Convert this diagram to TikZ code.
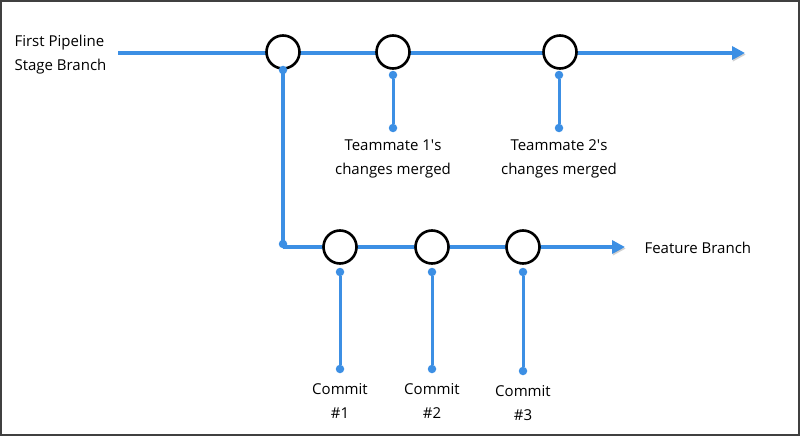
\documentclass[tikz,border=0pt]{standalone}
\usepackage{fontspec}
\setmainfont{Open Sans}
\usetikzlibrary{arrows.meta,backgrounds}
\definecolor{gitblue}{RGB}{60,143,228}

\begin{document}
\begin{tikzpicture}[x=1pt,y=-1pt,font=\fontsize{15}{24}\selectfont,
  commit/.style={circle,draw=black,line width=2.6pt,fill=white,minimum size=33pt,inner sep=0pt},
  dot/.style={circle,fill=gitblue,minimum size=8.5pt,inner sep=0pt},
  branch/.style={gitblue,line width=4pt,
    preaction={draw=black,opacity=.18,transform canvas={shift={(0.8pt,-1.6pt)}}}},
  stem/.style={gitblue,line width=3pt},
  tip/.style={-{Triangle[length=13pt,width=13pt]}},
  lbl/.style={align=center}]
\useasboundingbox (0,0) rectangle (800,436);
\draw[black!75,line width=2pt] (1,1) rectangle (799,435);
% main branch
\coordinate (mstart) at (118,53);
\coordinate (mend) at (745,53);
\node[commit] (m1) at (283,52) {};
\node[commit] (m2) at (393,52) {};
\node[commit] (m3) at (560,52) {};
\node[dot] (fork) at (283,70) {};
\node[dot] (t1a) at (393,75) {};
\node[dot] (t1b) at (393,128) {};
\node[dot] (t2a) at (559,75) {};
\node[dot] (t2b) at (559,128) {};
% feature branch
\coordinate (fend) at (625,247);
\node[commit] (f1) at (340,247) {};
\node[commit] (f2) at (432,247) {};
\node[commit] (f3) at (523,247) {};
\node[dot] (corner) at (283,244) {};
\node[dot] (c1a) at (340,272) {};
\node[dot] (c1b) at (340,369) {};
\node[dot] (c2a) at (432,272) {};
\node[dot] (c2b) at (432,369) {};
\node[dot] (c3a) at (523,272) {};
\node[dot] (c3b) at (523,371) {};
\begin{scope}[on background layer]
\draw[branch,tip] (mstart) -- (mend);
\draw[branch] (fork.center) -- (corner.center) -- (283,247);
\draw[branch,tip] (283,247) -- (fend);
\draw[stem] (t1a) -- (t1b);
\draw[stem] (t2a) -- (t2b);
\draw[stem] (c1a) -- (c1b);
\draw[stem] (c2a) -- (c2b);
\draw[stem] (c3a) -- (c3b);
\end{scope}
% labels
\node[align=left,anchor=west] (main) at (11,55) {First Pipeline\\Stage Branch};
\node[anchor=west] (feature) at (641,248) {Feature Branch};
\node[lbl] (t1l) at (393,159) {Teammate 1\textquotesingle s\\changes merged};
\node[lbl] (t2l) at (559,159) {Teammate 2\textquotesingle s\\changes merged};
\node[lbl] (c1l) at (340,401) {Commit\\\#1};
\node[lbl] (c2l) at (432,401) {Commit\\\#2};
\node[lbl] (c3l) at (523,403) {Commit\\\#3};
\end{tikzpicture}
\end{document}
